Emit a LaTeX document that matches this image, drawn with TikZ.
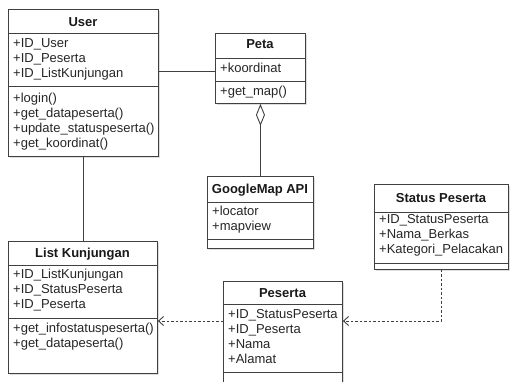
\documentclass[tikz,border=0pt]{standalone}
\usepackage{fontspec}
\setmainfont{Liberation Sans}
\usetikzlibrary{arrows.meta,shadows}
\begin{document}
\begin{tikzpicture}[x=1pt,y=-1pt]
\tikzset{
 cls/.style={draw=black!75, line width=0.9pt, fill=white, anchor=north west, inner sep=0pt,
   drop shadow={shadow xshift=2pt,shadow yshift=-2pt,fill=black!25,opacity=0.5}},
 sepline/.style={draw=black!75, line width=0.9pt},
 ttl/.style={anchor=base, font=\fontsize{13}{15}\selectfont\bfseries, text=black!90, inner sep=0pt},
 attr/.style={anchor=base west, font=\fontsize{13}{15}\selectfont, text=black!85, inner sep=0pt},
 conn/.style={draw=black!75, line width=0.9pt},
 dep/.style={conn, dash pattern=on 2.5pt off 2pt, -{Straight Barb[length=5pt,width=9pt]}},
}
\clip (0,0) rectangle (512,382);
\fill[white] (0,0) rectangle (512,382);

% User
\node[cls, minimum width=150pt, minimum height=147pt] (user) at (8,9) {};
\draw[sepline] (user.west |- 0,33) -- (user.east |- 0,33);
\draw[sepline] (user.west |- 0,86) -- (user.east |- 0,86);
\node[ttl] (usert) at (83,27) {User};
\node[attr] (u1) at (13,48) {+ID\_User};
\node[attr] (u2) at (13,63) {+ID\_Peserta};
\node[attr] (u3) at (13,78) {+ID\_ListKunjungan};
\node[attr] (u4) at (13,103) {+login()};
\node[attr] (u5) at (13,118) {+get\_datapeserta()};
\node[attr] (u6) at (13,133) {+update\_statuspeserta()};
\node[attr] (u7) at (13,148) {+get\_koordinat()};

% Peta
\node[cls, minimum width=90pt, minimum height=70pt] (peta) at (215,33) {};
\draw[sepline] (peta.west |- 0,58) -- (peta.east |- 0,58);
\draw[sepline] (peta.west |- 0,81) -- (peta.east |- 0,81);
\node[ttl] (petat) at (260,49) {Peta};
\node[attr] (p1) at (220,73) {+koordinat};
\node[attr] (p2) at (220,96) {+get\_map()};

% GoogleMap API
\node[cls, minimum width=106pt, minimum height=72pt] (gmap) at (207,176) {};
\draw[sepline] (gmap.west |- 0,202) -- (gmap.east |- 0,202);
\draw[sepline] (gmap.west |- 0,239) -- (gmap.east |- 0,239);
\node[ttl] (gmapt) at (260,194) {GoogleMap API};
\node[attr] (g1) at (212,216) {+locator};
\node[attr] (g2) at (212,231) {+mapview};

% Status Peserta
\node[cls, minimum width=134pt, minimum height=85pt] (status) at (374,184) {};
\draw[sepline] (status.west |- 0,212) -- (status.east |- 0,212);
\draw[sepline] (status.west |- 0,263) -- (status.east |- 0,263);
\node[ttl] (statust) at (441,203) {Status Peserta};
\node[attr] (s1) at (379,224) {+ID\_StatusPeserta};
\node[attr] (s2) at (379,239) {+Nama\_Berkas};
\node[attr] (s3) at (379,254) {+Kategori\_Pelacakan};

% Peserta
\node[cls, minimum width=119pt, minimum height=110pt] (peserta) at (223,281) {};
\draw[sepline] (peserta.west |- 0,304) -- (peserta.east |- 0,304);
\draw[sepline] (peserta.west |- 0,372) -- (peserta.east |- 0,372);
\node[ttl] (pesertat) at (282.5,298) {Peserta};
\node[attr] (q1) at (228,319) {+ID\_StatusPeserta};
\node[attr] (q2) at (228,334) {+ID\_Peserta};
\node[attr] (q3) at (228,349) {+Nama};
\node[attr] (q4) at (228,364) {+Alamat};

% List Kunjungan
\node[cls, minimum width=149pt, minimum height=132pt] (list) at (8,241) {};
\draw[sepline] (list.west |- 0,265) -- (list.east |- 0,265);
\draw[sepline] (list.west |- 0,318) -- (list.east |- 0,318);
\node[ttl] (listt) at (82.5,258) {List Kunjungan};
\node[attr] (l1) at (13,279) {+ID\_ListKunjungan};
\node[attr] (l2) at (13,294) {+ID\_StatusPeserta};
\node[attr] (l3) at (13,309) {+ID\_Peserta};
\node[attr] (l4) at (13,333) {+get\_infostatuspeserta()};
\node[attr] (l5) at (13,348) {+get\_datapeserta()};

% connectors
\draw[conn] (user.east |- 0,71) -- (peta.west |- 0,71);
\draw[conn] (user.south) -- (user.south |- list.north);
\draw[conn, {Diamond[open,length=22pt,width=9pt]}-] (peta.south) -- (gmap.north);
\draw[dep] (status.south) |- (peserta.east |- 0,321);
\draw[dep] (peserta.west |- 0,321) -- (list.east |- 0,321);
\end{tikzpicture}
\end{document}
